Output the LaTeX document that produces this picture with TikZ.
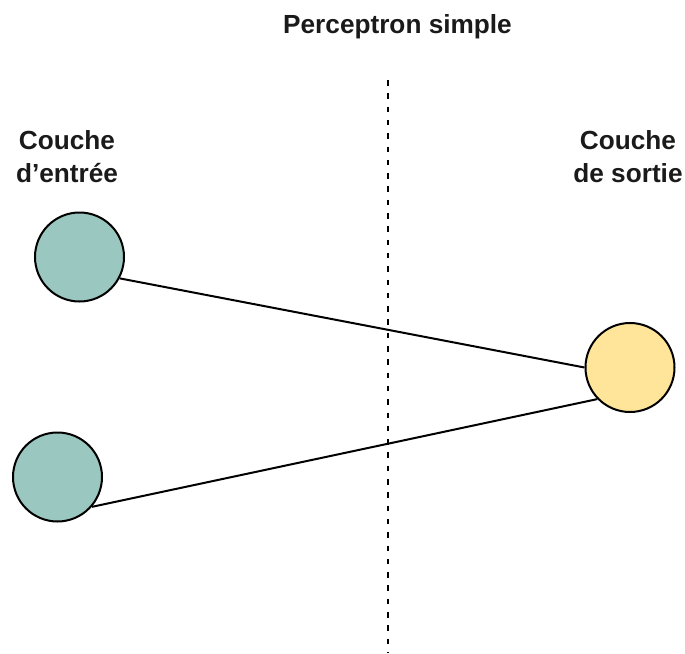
\documentclass[tikz,border=0pt]{standalone}
\usepackage{fontspec}
\setmainfont{Liberation Sans}
\definecolor{inputfill}{HTML}{9AC7BF}
\definecolor{outputfill}{HTML}{FFE599}
\definecolor{inktext}{HTML}{1A1A1A}
\begin{document}
\begin{tikzpicture}[x=1pt,y=-1pt,
  neuron/.style={circle,draw=black,line width=2pt,minimum size=89pt,inner sep=0pt},
  inneuron/.style={neuron,fill=inputfill},
  outneuron/.style={neuron,fill=outputfill},
  caption/.style={font=\fontsize{26.2}{32.8}\selectfont\bfseries,text=inktext,align=center,inner sep=0pt,anchor=base},
  link/.style={draw=black,line width=2pt},
  separator/.style={draw=black,line width=2pt,dash pattern=on 5.5pt off 7.8pt}]
  \useasboundingbox (0,0) rectangle (685,653);

  % titles (base anchor sits on the last line of a two-line caption)
  \node[caption] (title) at (397.5,33) {Perceptron simple};
  \node[caption] (inlabel) at (67,182) {Couche\\d’entrée};
  \node[caption] (outlabel) at (628,182) {Couche\\de sortie};

  % separator between the layers
  \coordinate (septop) at (388,80);
  \coordinate (sepbot) at (388,653);
  \draw[separator] (septop) -- (sepbot);

  % neurons
  \node[inneuron] (in1) at (79.5,257) {};
  \node[inneuron] (in2) at (57.5,477) {};
  \node[outneuron] (out) at (630,367.5) {};

  % connections
  \draw[link] (in1.-28) -- (out.180);
  \draw[link] (in2.-41) -- (out.-136);
\end{tikzpicture}
\end{document}
